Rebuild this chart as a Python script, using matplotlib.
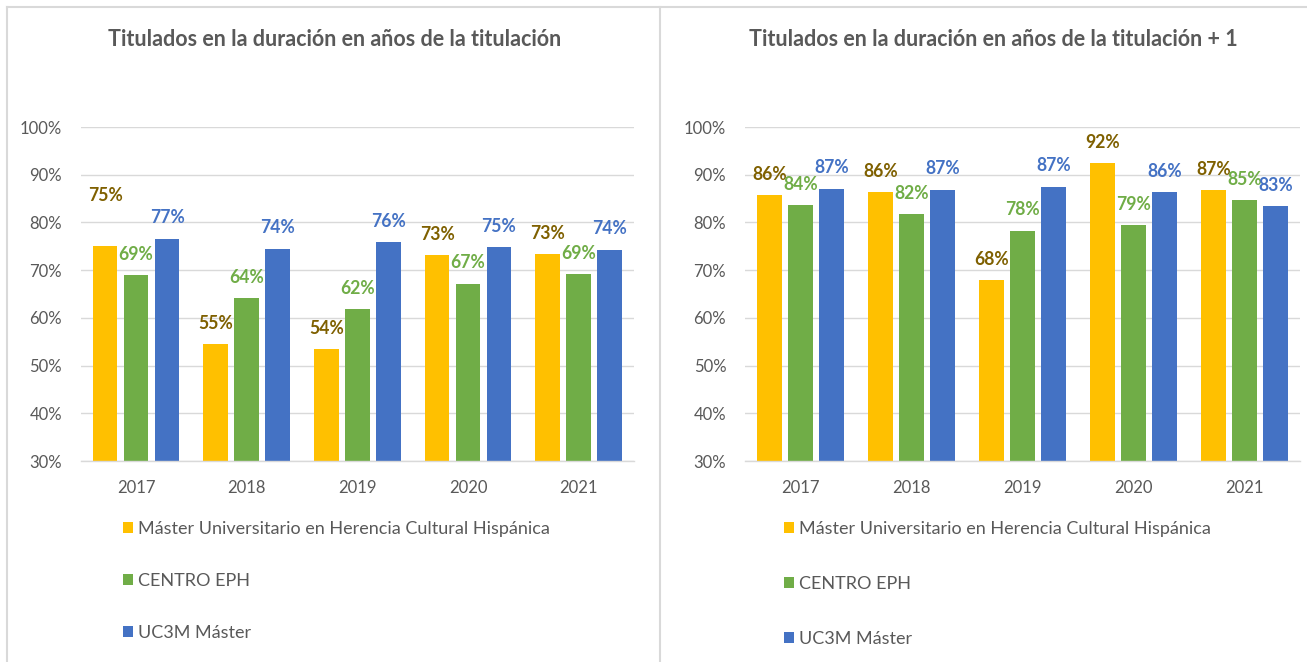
import matplotlib
matplotlib.use("Agg")
import matplotlib.pyplot as plt
import numpy as np
from matplotlib.patches import Patch
from matplotlib.lines import Line2D

plt.rcParams['font.family'] = ['Lato', 'DejaVu Sans']

years = ["2017", "2018", "2019", "2020", "2021"]
series_names = ["Máster Universitario en Herencia Cultural Hispánica", "CENTRO EPH", "UC3M Máster"]

left_title = "Titulados en la duración en años de la titulación"
left_master = [75.0, 54.5, 53.5, 73.1, 73.3]
left_centro = [68.9, 64.1, 61.8, 67.2, 69.2]
left_uc3m = [76.6, 74.5, 75.9, 74.8, 74.3]
left_labels = [["75%", "55%", "54%", "73%", "73%"],
               ["69%", "64%", "62%", "67%", "69%"],
               ["77%", "74%", "76%", "75%", "74%"]]

right_title = "Titulados en la duración en años de la titulación + 1"
right_master = [85.7, 86.4, 67.9, 92.4, 86.7]
right_centro = [83.6, 81.7, 78.3, 79.4, 84.6]
right_uc3m = [87.1, 86.9, 87.5, 86.4, 83.4]
right_labels = [["86%", "86%", "68%", "92%", "87%"],
                ["84%", "82%", "78%", "79%", "85%"],
                ["87%", "87%", "87%", "86%", "83%"]]

yticks = [30, 40, 50, 60, 70, 80, 90, 100]
ytick_labels = ["30%", "40%", "50%", "60%", "70%", "80%", "90%", "100%"]

bar_colors = ["#FFC000", "#70AD47", "#4472C4"]
label_colors = ["#7F6000", "#70AD47", "#4472C4"]
text_gray = "#595959"
grid_gray = "#D9D9D9"

W, H = 1307, 662
fig = plt.figure(figsize=(W / 100, H / 100), dpi=100)

def px_rect(x0, y_top, x1, y_bot):
    return [x0 / W, 1 - y_bot / H, (x1 - x0) / W, (y_bot - y_top) / H]

def draw(ax, data, labels, title, title_cx, legend_x, legend_y, spacing, special=None):
    x = np.arange(len(years))
    step = 0.28
    width = 0.222
    for i, vals in enumerate(data):
        pos = x + (i - 1) * step
        ax.bar(pos, np.array(vals) - 30, bottom=30, width=width, color=bar_colors[i], zorder=3)
        for j, (p, v) in enumerate(zip(pos, vals)):
            off = 15.0
            if special is not None and (i, j) in special:
                off = special[(i, j)]
            ax.annotate(labels[i][j], (p, v), xytext=(0, off), textcoords="offset points",
                        ha="center", va="center", fontsize=12.7, fontweight="bold",
                        color=label_colors[i], zorder=4)
    ax.set_ylim(30, 100)
    ax.set_xlim(-0.5, len(years) - 0.5)
    ax.set_yticks(yticks)
    ax.set_yticklabels(ytick_labels)
    ax.set_xticks(x)
    ax.set_xticklabels(years)
    ax.tick_params(axis="both", length=0, labelsize=12, labelcolor=text_gray)
    ax.tick_params(axis="y", pad=13.5)
    ax.tick_params(axis="x", pad=13.5)
    ax.grid(axis="y", color=grid_gray, linewidth=1.0, zorder=0)
    for s in ["top", "right", "left"]:
        ax.spines[s].set_visible(False)
    ax.spines["bottom"].set_color(grid_gray)
    ax.spines["bottom"].set_linewidth(1.0)
    ax.spines["bottom"].set_zorder(5)
    fig.text(title_cx / W, 1 - 40 / H, title, ha="center", va="center",
             fontsize=15.5, fontweight="bold", color=text_gray)
    handles = [Patch(facecolor=c, edgecolor="none") for c in bar_colors]
    fig.legend(handles, series_names, loc="upper left",
               bbox_to_anchor=(legend_x / W, 1 - legend_y / H),
               frameon=False, fontsize=13, labelcolor=text_gray,
               handlelength=0.55, handleheight=0.55, handletextpad=0.3,
               labelspacing=spacing, borderpad=0, borderaxespad=0)

axL = fig.add_axes(px_rect(80.7, 127, 634, 461))
draw(axL, [left_master, left_centro, left_uc3m], left_labels, left_title, 335,
     123, 521, 1.98, special={(0, 0): 36.5})

axR = fig.add_axes(px_rect(745, 127, 1300, 461))
draw(axR, [right_master, right_centro, right_uc3m], right_labels, right_title, 993,
     784, 521, 2.15)

# panel borders
for (xs, ys) in [([7, 1307], [7, 7]), ([7, 7], [7, 662]), ([660, 660], [7, 662])]:
    fig.add_artist(Line2D([v / W for v in xs], [1 - v / H for v in ys],
                          color=grid_gray, linewidth=1.5, transform=fig.transFigure))

fig.savefig("out.png", dpi=100)
